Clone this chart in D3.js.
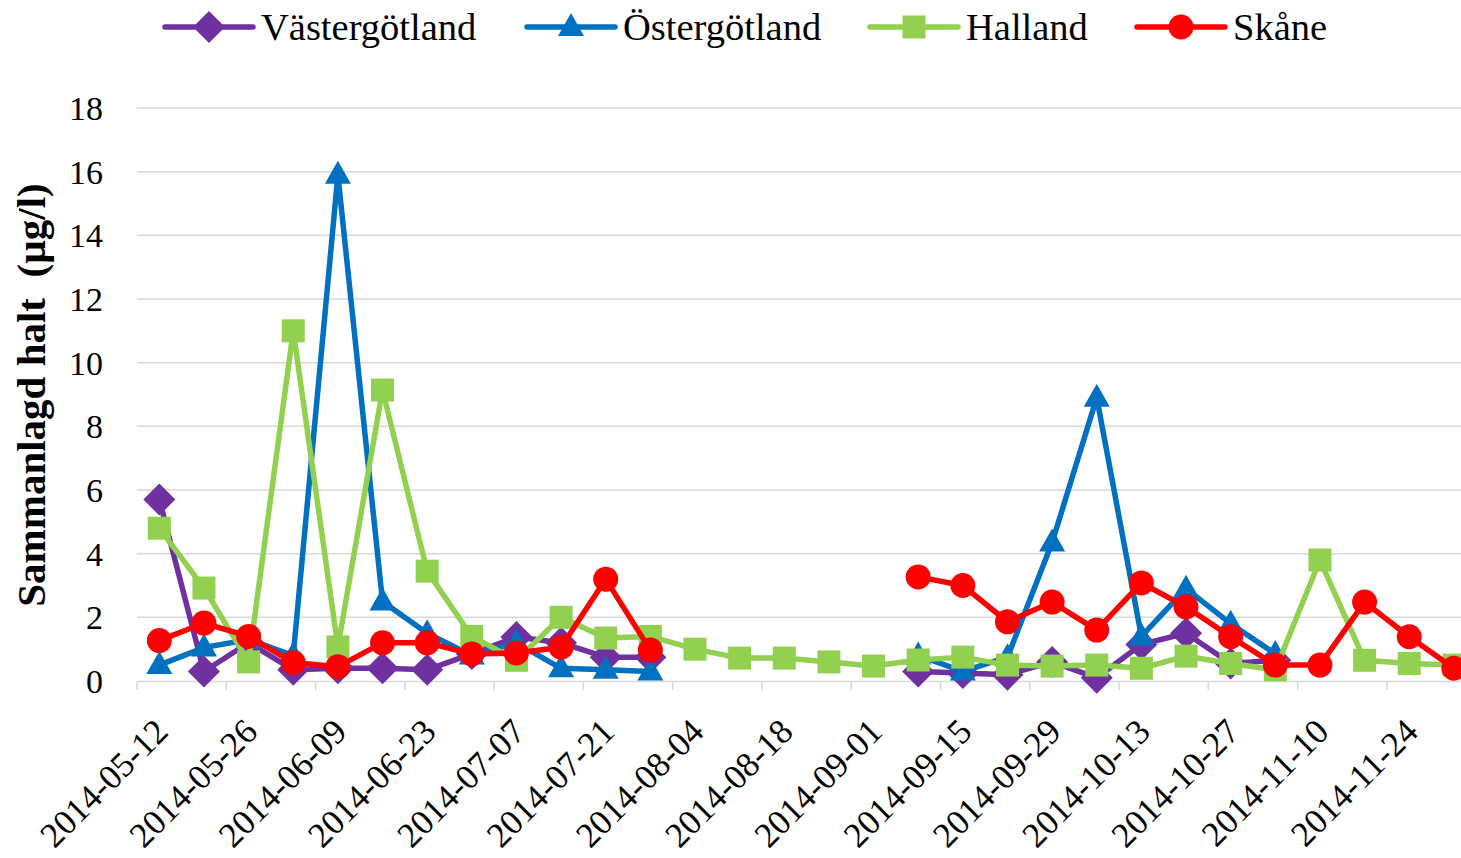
<!DOCTYPE html>
<html>
<head>
<meta charset="utf-8">
<script src="https://cdn.jsdelivr.net/npm/d3@7"></script>
<style>
  body { margin: 0; background: #fff; }
  svg { display: block; }
  .lbl { font-family: "Liberation Serif", "Times New Roman", serif; fill: #000; }
</style>
</head>
<body>
<div id="chart"></div>
<script>
// weekly sampling dates (categories)
const dates = [
  "2014-05-12", "2014-05-19", "2014-05-26", "2014-06-02", "2014-06-09", "2014-06-16",
  "2014-06-23", "2014-06-30", "2014-07-07", "2014-07-14", "2014-07-21", "2014-07-28",
  "2014-08-04", "2014-08-11", "2014-08-18", "2014-08-25", "2014-09-01", "2014-09-08",
  "2014-09-15", "2014-09-22", "2014-09-29", "2014-10-06", "2014-10-13", "2014-10-20",
  "2014-10-27", "2014-11-03", "2014-11-10", "2014-11-17", "2014-11-24", "2014-12-01"
];

const vastergotland = [5.7, 0.3, 1.2, 0.35, 0.4, 0.4, 0.35, 0.85, 1.38, 1.2, 0.75, 0.75,
  null, null, null, null, null, 0.3, 0.25, 0.2, 0.6, 0.1, 1.15, 1.5, 0.55, 0.65,
  null, null, null, null];
const ostergotland = [0.5, 1.05, 1.3, 0.8, 15.9, 2.5, 1.5, 0.8, 1.2, 0.4, 0.35, 0.3,
  null, null, null, null, null, 0.8, 0.3, 0.75, 4.35, 8.9, 1.4, 2.9, 1.8, 0.85,
  null, null, null, null];
const halland = [4.8, 2.92, 0.6, 11.0, 1.07, 9.14, 3.45, 1.4, 0.65, 2.0, 1.35, 1.4,
  1.0, 0.72, 0.72, 0.6, 0.47, 0.66, 0.75, 0.5, 0.47, 0.5, 0.4, 0.78, 0.55, 0.35,
  3.8, 0.65, 0.55, 0.5];
const skane = [1.27, 1.82, 1.4, 0.58, 0.45, 1.2, 1.2, 0.85, 0.88, 1.06, 3.2, 0.97,
  null, null, null, null, null, 3.27, 3.0, 1.86, 2.48, 1.6, 3.08, 2.33, 1.39, 0.5,
  0.5, 2.48, 1.39, 0.4];

const seriesNames = ["Västergötland", "Östergötland", "Halland", "Skåne"];
const yTicks = [0, 2, 4, 6, 8, 10, 12, 14, 16, 18];
const yTitle = "Sammanlagd halt  (µg/l)";

const series = [
  { name: seriesNames[0], values: vastergotland, color: "#7030A0", marker: "diamond" },
  { name: seriesNames[1], values: ostergotland, color: "#0070C0", marker: "triangle" },
  { name: seriesNames[2], values: halland, color: "#92D050", marker: "square" },
  { name: seriesNames[3], values: skane, color: "#FF0000", marker: "circle" }
];

const W = 1461, H = 858;
const left = 137, catW = 44.64;
const y0 = 681, y18 = 108;

const svg = d3.select("#chart").append("svg")
  .attr("width", W).attr("height", H);

const x = d3.scaleBand().domain(dates).range([left, left + dates.length * catW]).padding(0);
const bw = x.bandwidth();
const xc = d => x(d) + bw / 2;
const y = d3.scaleLinear().domain([0, 18]).range([y0, y18]);

// gridlines
svg.append("g")
  .selectAll("line")
  .data(yTicks.filter(t => t > 0))
  .enter().append("line")
  .attr("x1", left).attr("x2", W)
  .attr("y1", d => y(d)).attr("y2", d => y(d))
  .attr("stroke", "#D9D9D9").attr("stroke-width", 1.5);

// y tick labels
svg.append("g")
  .selectAll("text")
  .data(yTicks)
  .enter().append("text")
  .attr("class", "lbl")
  .attr("x", 103)
  .attr("y", d => y(d))
  .attr("dy", "0.35em")
  .attr("text-anchor", "end")
  .style("font-size", "34px")
  .text(d => d);

// x axis
const xAxis = svg.append("g")
  .attr("transform", "translate(0," + y0 + ")")
  .call(d3.axisBottom(x)
    .tickValues(dates.filter((d, i) => i % 2 === 0))
    .tickSize(9)
    .tickSizeOuter(0));

xAxis.select(".domain").attr("stroke", "#D9D9D9").attr("stroke-width", 1.5)
  .attr("d", "M" + left + ",0.5H" + W);
xAxis.selectAll(".tick line")
  .attr("x1", -bw / 2).attr("x2", -bw / 2)
  .attr("stroke", "#D9D9D9").attr("stroke-width", 1.5);
xAxis.selectAll(".tick text")
  .attr("class", "lbl")
  .attr("x", 0).attr("y", 0).attr("dy", "0.35em")
  .attr("text-anchor", "end")
  .attr("transform", "translate(2,44) rotate(-45)")
  .style("font-size", "35px")
  .style("font-family", "'Liberation Serif', 'Times New Roman', serif")
  .attr("fill", "#000");

// y axis title
svg.append("text")
  .attr("class", "lbl")
  .attr("transform", "translate(31,395) rotate(-90)")
  .attr("text-anchor", "middle")
  .attr("dy", "0.35em")
  .attr("xml:space", "preserve")
  .style("font-size", "41px")
  .style("font-weight", "bold")
  .text(yTitle);

function drawMarker(sel, type, color) {
  if (type === "circle") {
    sel.append("circle").attr("r", 12.5).attr("fill", color);
  } else if (type === "square") {
    sel.append("rect").attr("x", -11.5).attr("y", -11.5).attr("width", 23).attr("height", 23).attr("fill", color);
  } else if (type === "diamond") {
    sel.append("path").attr("d", "M0,-16L16,0L0,16L-16,0Z").attr("fill", color);
  } else {
    sel.append("path").attr("d", "M0,-14L13,9L-13,9Z").attr("fill", color);
  }
}

const line = d3.line()
  .defined(d => d.v !== null)
  .x(d => xc(d.date))
  .y(d => y(d.v));

series.forEach(s => {
  const pts = dates.map((d, i) => ({ date: d, v: s.values[i] }));
  const g = svg.append("g");
  g.append("path")
    .datum(pts)
    .attr("d", line)
    .attr("fill", "none")
    .attr("stroke", s.color)
    .attr("stroke-width", 5.5)
    .attr("stroke-linejoin", "round")
    .attr("stroke-linecap", "round");
  g.selectAll(".mk")
    .data(pts.filter(p => p.v !== null))
    .enter().append("g")
    .attr("class", "mk")
    .attr("transform", p => "translate(" + xc(p.date) + "," + y(p.v) + ")")
    .each(function () { drawMarker(d3.select(this), s.marker, s.color); });
});

// legend
const legendX = [165, 527, 870, 1137];
const legend = svg.append("g");
series.forEach((s, i) => {
  const g = legend.append("g").attr("transform", "translate(" + legendX[i] + ",27)");
  g.append("line").attr("x1", 0).attr("x2", 88)
    .attr("stroke", s.color).attr("stroke-width", 5.5).attr("stroke-linecap", "round");
  drawMarker(g.append("g").attr("transform", "translate(44,0)"), s.marker, s.color);
  g.append("text").attr("class", "lbl")
    .attr("x", 96).attr("dy", "0.35em")
    .style("font-size", "38.5px")
    .text(s.name);
});
</script>
</body>
</html>
